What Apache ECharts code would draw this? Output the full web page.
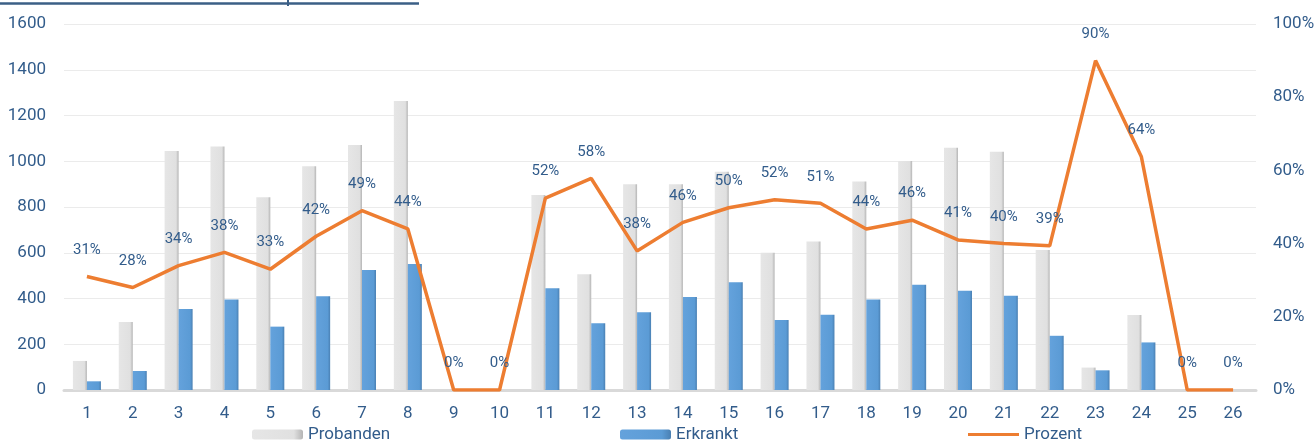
<!DOCTYPE html>
<html>
<head>
<meta charset="utf-8">
<script src="https://cdn.jsdelivr.net/npm/echarts@6/dist/echarts.min.js"></script>
<style>
html,body{margin:0;padding:0;background:#fff;}
#c{width:1316px;height:441px;}
</style>
</head>
<body>
<div id="c"></div>
<script>
var categories = ['1','2','3','4','5','6','7','8','9','10','11','12','13','14','15','16','17','18','19','20','21','22','23','24','25','26'];
var probanden = [127,297,1045,1064,843,978,1071,1263,0,0,853,506,899,899,954,600,649,911,1001,1059,1041,612,98,328,0,0];
var erkrankt = [38,83,354,396,277,410,525,551,0,0,445,292,340,407,471,306,329,396,460,434,412,237,86,208,0,0];
var prozent = [0.31,0.28,0.34,0.376,0.33,0.42,0.49,0.44,0,0,0.524,0.578,0.38,0.458,0.498,0.52,0.51,0.44,0.464,0.41,0.40,0.394,0.90,0.637,0,0];
var leftTicks = {min:0, max:1600, interval:200};
var rightTicks = {min:0, max:1, interval:0.2};

var FONT = "Roboto, 'Liberation Sans', sans-serif";
var TXT = '#325c8b';
var chart = echarts.init(document.getElementById('c'), null, {renderer:'canvas'});

function grad(a,b,c){
  return new echarts.graphic.LinearGradient(0,0,1,0,[{offset:0,color:a},{offset:0.82,color:b},{offset:1,color:c}]);
}

var legendBase = {
  top: 426, padding: 0, itemWidth: 51, itemHeight: 10, selectedMode: false,
  textStyle: {fontFamily: FONT, fontSize: 17, color: TXT}
};

chart.setOption({
  animation: false,
  backgroundColor: '#fff',
  textStyle: {fontFamily: FONT},
  grid: {left: 64, right: 60, top: 24, bottom: 51, containLabel: false, outerBoundsMode: 'none'},
  legend: [
    Object.assign({}, legendBase, {left: 252, data: ['Probanden']}),
    Object.assign({}, legendBase, {left: 620, data: ['Erkrankt']}),
    Object.assign({}, legendBase, {left: 968, itemHeight: 3, data: [{name: 'Prozent', icon: 'rect'}]})
  ],
  graphic: [
    {type:'line', shape:{x1:0,y1:3.5,x2:419,y2:3.5}, style:{stroke:'#3b5f86', lineWidth:2.5}},
    {type:'line', shape:{x1:288,y1:0,x2:288,y2:6}, style:{stroke:'#3b5f86', lineWidth:2}}
  ],
  xAxis: {
    type: 'category', data: categories,
    axisLine: {show: true, lineStyle: {color: '#d9d9d9', width: 3}},
    axisTick: {show: false},
    axisLabel: {color: TXT, fontSize: 17, fontFamily: FONT, margin: 15}
  },
  yAxis: [
    {type: 'value', min: leftTicks.min, max: leftTicks.max, interval: leftTicks.interval,
     axisLine: {show: false}, axisTick: {show: false},
     splitLine: {lineStyle: {color: '#ebebeb', width: 1}},
     axisLabel: {color: TXT, fontSize: 17, fontFamily: FONT, margin: 18,
       formatter: function(v){return String(v);}}},
    {type: 'value', min: rightTicks.min, max: rightTicks.max, interval: rightTicks.interval,
     axisLine: {show: false}, axisTick: {show: false}, splitLine: {show: false},
     axisLabel: {color: TXT, fontSize: 17, fontFamily: FONT, margin: 17,
       formatter: function(v){return Math.round(v*100)+'%';}}}
  ],
  series: [
    {name: 'Probanden', type: 'bar', data: probanden, barWidth: 14, barGap: '0%',
     itemStyle: {color: grad('#e6e6e6','#e0e0e0','#b5b5b5')}},
    {name: 'Erkrankt', type: 'bar', data: erkrankt, barWidth: 14, barGap: '0%',
     itemStyle: {color: grad('#64a2dc','#5b9bd5','#4a80b3')}},
    {name: 'Prozent', type: 'line', yAxisIndex: 1, data: prozent, symbol: 'circle', symbolSize: 0, showSymbol: true,
     lineStyle: {color: '#ed7d31', width: 3.5}, itemStyle: {color: '#ed7d31'}, z: 5,
     labelLayout: {hideOverlap: false},
     label: {show: true, position: 'top', distance: 19, color: TXT, fontSize: 15, fontFamily: FONT,
       formatter: function(p){return Math.round(p.value*100)+'%';}}}
  ]
});
</script>
</body>
</html>
